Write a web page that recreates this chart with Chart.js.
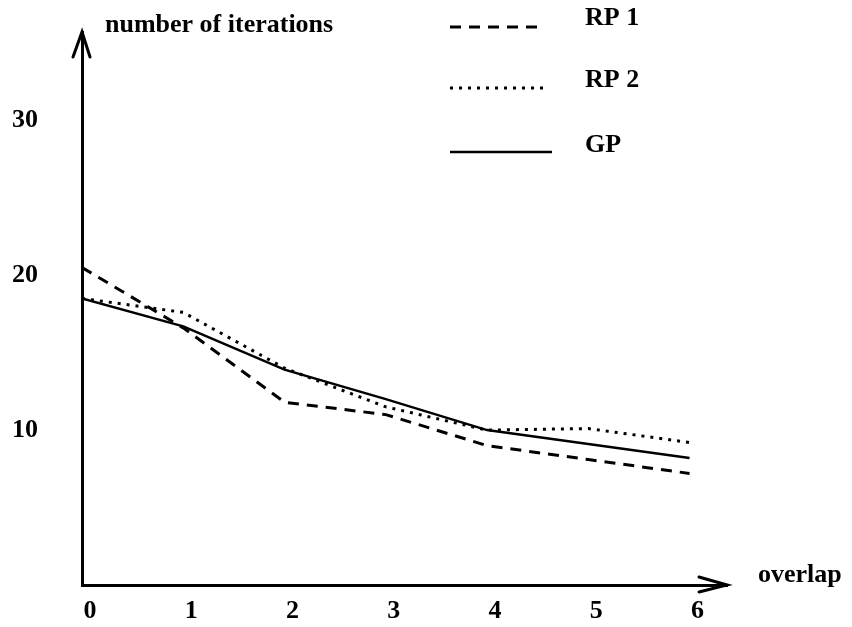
<!DOCTYPE html>
<html>
<head>
<meta charset="utf-8">
<script src="https://cdn.jsdelivr.net/npm/chart.js@4"></script>
<style>
  html, body { margin: 0; padding: 0; background: #fff; }
  #wrap { width: 852px; height: 627px; position: relative; }
</style>
</head>
<body>
<div id="wrap"><canvas id="iterChart"></canvas></div>
<script>
  // values
  const overlap = [0, 1, 2, 3, 4, 5, 6];
  const rp1 = [20.5, 16.6, 11.8, 11.0, 9.0, 8.1, 7.2];
  const rp2 = [18.5, 17.6, 14.0, 11.5, 10.0, 10.1, 9.2];
  const gp = [18.5, 16.7, 13.9, 12.0, 10.0, 9.1, 8.2];
  const xTicks = [0, 1, 2, 3, 4, 5, 6];
  const yTicks = [10, 20, 30];
  const seriesNames = ["RP 1", "RP 2", "GP"];

  const serif = "'Liberation Serif', 'Times New Roman', serif";
  const axisFont = { family: serif, size: 26, weight: "bold" };

  const toPoints = vals => vals.map((v, i) => ({ x: overlap[i], y: v }));

  // open arrow heads, axis titles and the stacked legend in the top right
  const paperPlugin = {
    id: "paper",
    afterDraw(chart) {
      const ctx = chart.ctx;
      const a = chart.chartArea;
      ctx.save();
      ctx.strokeStyle = "#000";
      ctx.lineWidth = 3;
      ctx.lineCap = "round";
      ctx.beginPath();
      ctx.moveTo(a.left - 9, a.top + 25);
      ctx.lineTo(a.left, a.top);
      ctx.lineTo(a.left + 8, a.top + 25);
      ctx.moveTo(a.right - 28, a.bottom - 8);
      ctx.lineTo(a.right, a.bottom);
      ctx.lineTo(a.right - 28, a.bottom + 7);
      ctx.stroke();

      ctx.fillStyle = "#000";
      ctx.font = "bold 26px " + serif;
      ctx.textBaseline = "alphabetic";
      ctx.textAlign = "left";
      ctx.fillText("number of iterations", 105, 32);
      ctx.fillText("overlap", 758, 582);

      const rows = [
        { y: 27, x2: 540, base: 25 },
        { y: 88, x2: 547, base: 87 },
        { y: 152, x2: 552, base: 152 }
      ];
      chart.data.datasets.forEach((ds, i) => {
        const r = rows[i];
        ctx.beginPath();
        ctx.lineWidth = ds.borderWidth;
        ctx.lineCap = "butt";
        ctx.setLineDash(ds.borderDash || []);
        ctx.moveTo(450, r.y);
        ctx.lineTo(r.x2, r.y);
        ctx.stroke();
        ctx.setLineDash([]);
        ctx.fillText(ds.label, 585, r.base);
      });
      ctx.restore();
    }
  };

  new Chart(document.getElementById("iterChart"), {
    type: "line",
    data: {
      datasets: [
        {
          label: seriesNames[0],
          data: toPoints(rp1),
          borderColor: "#000",
          borderWidth: 3,
          borderDash: [11, 8]
        },
        {
          label: seriesNames[1],
          data: toPoints(rp2),
          borderColor: "#000",
          borderWidth: 3,
          borderDash: [3, 6]
        },
        {
          label: seriesNames[2],
          data: toPoints(gp),
          borderColor: "#000",
          borderWidth: 2.5
        }
      ]
    },
    options: {
      responsive: true,
      maintainAspectRatio: false,
      animation: false,
      layout: { padding: { top: 32, right: 125, left: 0, bottom: 0 } },
      elements: { point: { radius: 0 }, line: { tension: 0 } },
      plugins: { legend: { display: false }, tooltip: { enabled: false } },
      scales: {
        x: {
          type: "linear",
          min: 0,
          max: 6.37,
          afterBuildTicks: s => { s.ticks = xTicks.map(v => ({ value: v })); },
          afterFit: s => {
            s.height = 42;
            s.paddingLeft = 0;
            s.paddingRight = 0;
          },
          grid: { display: false, drawTicks: false },
          border: { display: true, color: "#000", width: 3 },
          ticks: { color: "#000", font: axisFont, padding: 11, labelOffset: 8, maxRotation: 0 }
        },
        y: {
          min: 0,
          max: 35.7,
          afterBuildTicks: s => { s.ticks = yTicks.map(v => ({ value: v })); },
          afterFit: s => {
            s.width = 82;
            s.paddingTop = 0;
            s.paddingBottom = 0;
          },
          grid: { display: false, drawTicks: false },
          border: { display: true, color: "#000", width: 3 },
          ticks: { color: "#000", font: axisFont, padding: 44 }
        }
      }
    },
    plugins: [paperPlugin]
  });
</script>
</body>
</html>
